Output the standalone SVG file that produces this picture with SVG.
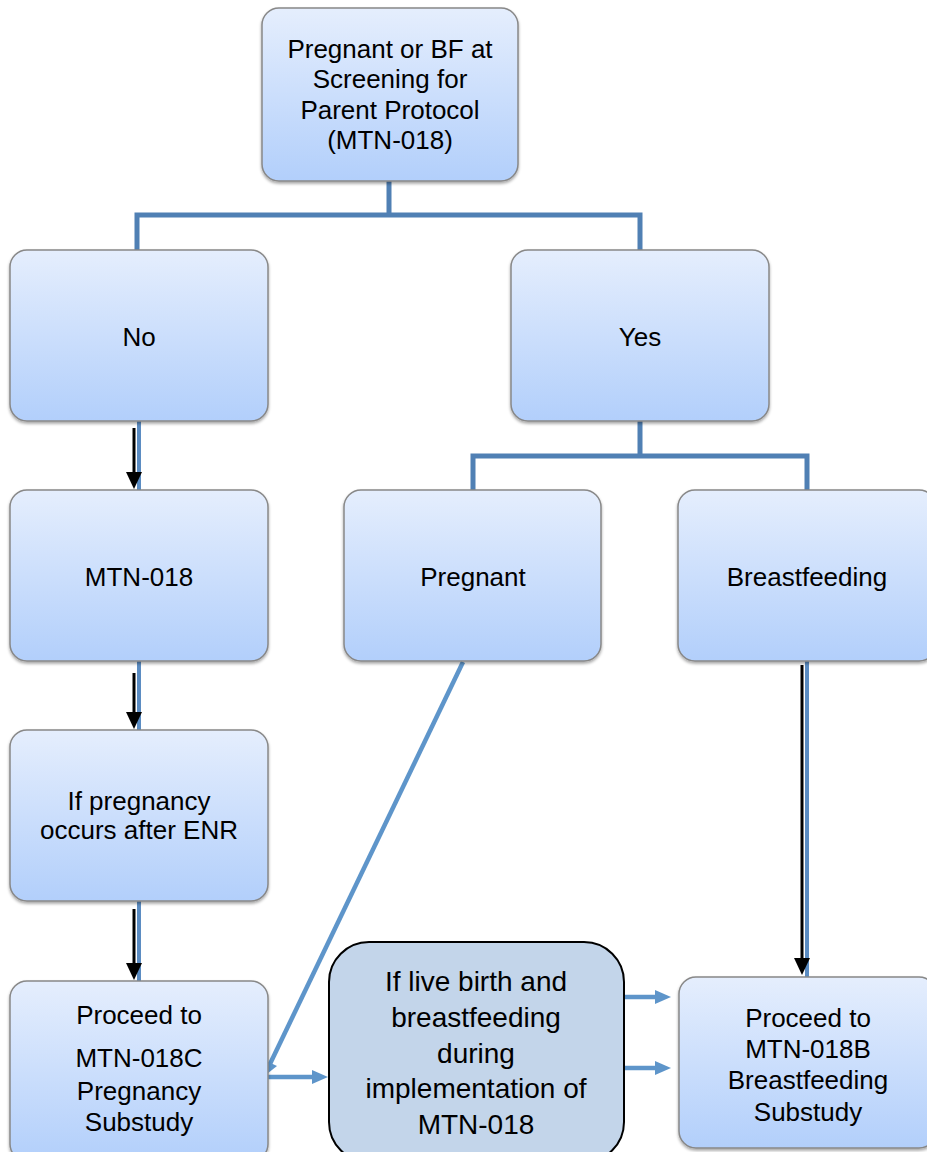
<svg xmlns="http://www.w3.org/2000/svg" width="927" height="1152" viewBox="0 0 927 1152">
<defs>
<linearGradient id="g" x1="0" y1="0" x2="0" y2="1">
<stop offset="0" stop-color="#e5eefd"/>
<stop offset="1" stop-color="#b2cffb"/>
</linearGradient>
<filter id="sh" x="-10%" y="-10%" width="120%" height="120%">
<feDropShadow dx="0" dy="2" stdDeviation="1.5" flood-color="#000" flood-opacity="0.35"/>
</filter>
</defs>
<style>
.box{fill:url(#g);stroke:#888;stroke-width:1.5;filter:url(#sh)}
.t{font-family:"Liberation Sans",Arial,sans-serif;font-size:26px;fill:#000;text-anchor:middle}
.t2{font-size:28px}
.elb{fill:none;stroke:#5080b4;stroke-width:5}
.bl{fill:none;stroke:#5b8cc2;stroke-width:4}
.bl2{fill:none;stroke:#5e95ca;stroke-width:4.5}
.bk{fill:none;stroke:#000;stroke-width:3}
.ah{fill:#000}
.ab{fill:#5e95ca}
</style>
<g id="connectors">
<path class="elb" d="M389,181 V215 M137,250 V215 H640 V250"/>
<path class="elb" d="M640,421 V456 M473,490 V456 H807 V490"/>
<line class="bl" x1="139" y1="421" x2="139" y2="490"/>
<line class="bk" x1="134" y1="428" x2="134" y2="474"/>
<path class="ah" d="M126,472 L142,472 L134,489 Z"/>
<line class="bl" x1="139" y1="661" x2="139" y2="730"/>
<line class="bk" x1="134" y1="673" x2="134" y2="714"/>
<path class="ah" d="M126,712 L142,712 L134,729 Z"/>
<line class="bl" x1="139" y1="901" x2="139" y2="981"/>
<line class="bk" x1="134" y1="909" x2="134" y2="965"/>
<path class="ah" d="M126,963 L142,963 L134,980 Z"/>
<line class="bl" x1="807" y1="661" x2="807" y2="977"/>
<line class="bk" x1="802" y1="665" x2="802" y2="960"/>
<path class="ah" d="M794,958 L810,958 L802,975 Z"/>
<line class="bl2" x1="463" y1="662" x2="269" y2="1066"/>
<path class="ab" d="M258,1081 L260,1058 L277,1066 Z"/>
<line class="bl2" x1="260" y1="1077" x2="314" y2="1077"/>
<path class="ab" d="M312,1070 L328,1077 L312,1084 Z"/>
<line class="bl2" x1="625" y1="997" x2="656" y2="997"/>
<path class="ab" d="M655,990 L671,997 L655,1004 Z"/>
<line class="bl2" x1="625" y1="1068" x2="656" y2="1068"/>
<path class="ab" d="M655,1061 L671,1068 L655,1075 Z"/>
</g>
<g id="n-top"><rect class="box" x="262" y="8" width="256" height="173" rx="17"/>
<text class="t" x="390" y="58">Pregnant or BF at</text>
<text class="t" x="390" y="88">Screening for</text>
<text class="t" x="390" y="119">Parent Protocol</text>
<text class="t" x="390" y="149">(MTN-018)</text></g>
<g id="n-no"><rect class="box" x="10" y="250" width="258" height="171" rx="17"/>
<text class="t" x="139" y="346">No</text></g>
<g id="n-yes"><rect class="box" x="511" y="250" width="258" height="171" rx="17"/>
<text class="t" x="640" y="346">Yes</text></g>
<g id="n-mtn"><rect class="box" x="10" y="490" width="258" height="171" rx="17"/>
<text class="t" x="139" y="586">MTN-018</text></g>
<g id="n-preg"><rect class="box" x="344" y="490" width="257" height="171" rx="17"/>
<text class="t" x="473" y="586">Pregnant</text></g>
<g id="n-bf"><rect class="box" x="678" y="490" width="258" height="171" rx="17"/>
<text class="t" x="807" y="586">Breastfeeding</text></g>
<g id="n-ifpreg"><rect class="box" x="10" y="730" width="258" height="171" rx="17"/>
<text class="t" x="139" y="810">If pregnancy</text>
<text class="t" x="139" y="839">occurs after ENR</text></g>
<g id="n-proc-c"><rect class="box" x="10" y="981" width="258" height="180" rx="17"/>
<text class="t" x="139" y="1024">Proceed to</text>
<text class="t" x="139" y="1067">MTN-018C</text>
<text class="t" x="139" y="1100">Pregnancy</text>
<text class="t" x="139" y="1131">Substudy</text></g>
<g id="n-live"><rect x="329" y="942" width="295" height="220" rx="40" fill="#c3d5ea" stroke="#000" stroke-width="2"/>
<text class="t t2" x="476" y="991">If live birth and</text>
<text class="t t2" x="476" y="1027">breastfeeding</text>
<text class="t t2" x="476" y="1063">during</text>
<text class="t t2" x="476" y="1098">implementation of</text>
<text class="t t2" x="476" y="1134">MTN-018</text></g>
<g id="n-proc-b"><rect class="box" x="679" y="977" width="257" height="171" rx="17"/>
<text class="t" x="808" y="1027">Proceed to</text>
<text class="t" x="808" y="1058">MTN-018B</text>
<text class="t" x="808" y="1089">Breastfeeding</text>
<text class="t" x="808" y="1121">Substudy</text></g>
</svg>
